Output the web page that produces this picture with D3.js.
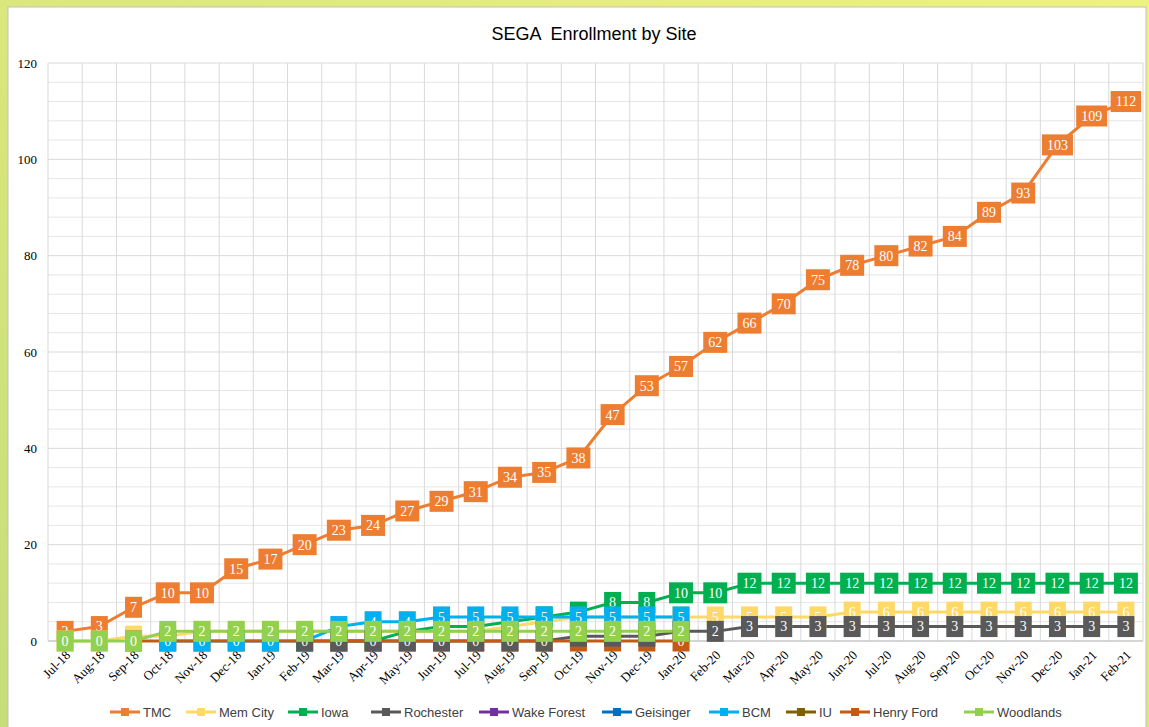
<!DOCTYPE html>
<html>
<head>
<meta charset="utf-8">
<script src="https://cdn.jsdelivr.net/npm/d3@7"></script>
<style>
	body { margin: 0; background: #e3ec7e; }
	svg { display: block; }
</style>
</head>
<body>
<div id="wrapper"></div>
<script>
// categories
const months = ["Jul-18","Aug-18","Sep-18","Oct-18","Nov-18","Dec-18","Jan-19","Feb-19","Mar-19","Apr-19","May-19","Jun-19",
	"Jul-19","Aug-19","Sep-19","Oct-19","Nov-19","Dec-19","Jan-20","Feb-20","Mar-20","Apr-20","May-20","Jun-20",
	"Jul-20","Aug-20","Sep-20","Oct-20","Nov-20","Dec-20","Jan-21","Feb-21"];

const siteNames = ["TMC","Mem City","Iowa","Rochester","Wake Forest","Geisinger","BCM","IU","Henry Ford","Woodlands"];

// series values (null = no entry)
const _ = null;
const tmc       = [2,3,7,10,10,15,17,20,23,24,27,29,31,34,35,38,47,53,57,62,66,70,75,78,80,82,84,89,93,103,109,112];
const memCity   = [0,0,1,1,2,2,2,2,2,2,2,2,2,3,4,5,5,5,5,5,5,5,5,6,6,6,6,6,6,6,6,6];
const iowa      = [_,_,_,_,_,_,_,_,0,0,2,3,3,4,5,6,8,8,10,10,12,12,12,12,12,12,12,12,12,12,12,12];
const rochester = [_,_,_,_,_,_,_,0,0,0,0,0,0,0,0,1,1,1,2,2,3,3,3,3,3,3,3,3,3,3,3,3];
const wakeForest = [];
const geisinger  = [];
const bcm       = [_,_,_,0,0,0,0,0,3,4,4,5,5,5,5,5,5,5,5];
const iu         = [];
const henryFord = [_,_,0,0,0,0,0,0,0,0,0,0,0,0,0,0,0,0,0];
const woodlands = [0,0,0,2,2,2,2,2,2,2,2,2,2,2,2,2,2,2,2];

const yTicks = [0,20,40,60,80,100,120];

const seriesValues = [tmc, memCity, iowa, rochester, wakeForest, geisinger, bcm, iu, henryFord, woodlands];
const colors = ["#ED7D31","#FFD966","#00B050","#595959","#7030A0","#0070C0","#00B0F0","#7F6000","#C55A11","#92D050"];

const series = siteNames.map((name, i) => ({
	name: name,
	color: colors[i],
	values: months.map((m, j) => ({ month: m, value: seriesValues[i][j] == null ? null : seriesValues[i][j] }))
}));

// marker/label stacking order seen in the picture
const drawOrder = ["TMC","Mem City","Iowa","Wake Forest","Geisinger","Henry Ford","IU","BCM","Rochester","Woodlands"];

let dimensions = {
	width: 1149,
	height: 727,
	margin: { top: 63, right: 6, bottom: 86, left: 48 }
};
dimensions.boundedWidth = dimensions.width - dimensions.margin.left - dimensions.margin.right;
dimensions.boundedHeight = dimensions.height - dimensions.margin.top - dimensions.margin.bottom;

const svg = d3.select("#wrapper").append("svg")
	.attr("width", dimensions.width)
	.attr("height", dimensions.height);

const defs = svg.append("defs");
const grad = defs.append("linearGradient").attr("id", "bg")
	.attr("x1", "0%").attr("y1", "100%").attr("x2", "100%").attr("y2", "0%");
grad.append("stop").attr("offset", "0%").attr("stop-color", "#c6dd7a");
grad.append("stop").attr("offset", "100%").attr("stop-color", "#eef27f");

svg.append("rect").attr("width", dimensions.width).attr("height", dimensions.height).attr("fill", "url(#bg)");
svg.append("rect")
	.attr("x", 8).attr("y", 7)
	.attr("width", 1138).attr("height", 730)
	.attr("fill", "#ffffff")
	.attr("stroke", "#bfbfbf");

svg.append("text")
	.attr("x", 594).attr("y", 40)
	.attr("text-anchor", "middle")
	.style("font-family", "'Liberation Sans', Arial, sans-serif")
	.style("font-size", "18px")
	.attr("fill", "#000000")
	.attr("xml:space", "preserve")
	.text("SEGA  Enrollment by Site");

const bounds = svg.append("g")
	.attr("transform", `translate(${dimensions.margin.left}, ${dimensions.margin.top})`);

const xScale = d3.scaleBand()
	.domain(months)
	.range([0, dimensions.boundedWidth]);

const yScale = d3.scaleLinear()
	.domain([0, 120])
	.range([dimensions.boundedHeight, 0]);

// grid
bounds.append("g").selectAll("line")
	.data(d3.range(0, 121, 4))
	.join("line")
	.attr("x1", 0).attr("x2", dimensions.boundedWidth)
	.attr("y1", d => yScale(d)).attr("y2", d => yScale(d))
	.attr("stroke", d => d % 20 === 0 ? "#d9d9d9" : "#e6e6e6")
	.attr("stroke-width", 1);

bounds.append("g").selectAll("line")
	.data(months.map(m => xScale(m)).concat([dimensions.boundedWidth]))
	.join("line")
	.attr("x1", d => d).attr("x2", d => d)
	.attr("y1", 0).attr("y2", dimensions.boundedHeight)
	.attr("stroke", "#d9d9d9")
	.attr("stroke-width", 1);

bounds.append("line")
	.attr("x1", 0).attr("x2", dimensions.boundedWidth)
	.attr("y1", dimensions.boundedHeight).attr("y2", dimensions.boundedHeight)
	.attr("stroke", "#bfbfbf");

// axes
const yAxis = bounds.append("g")
	.call(d3.axisLeft(yScale).tickValues(yTicks).tickSize(0).tickPadding(11));
yAxis.select(".domain").remove();
yAxis.selectAll("text")
	.style("font-family", "'Liberation Serif', 'Times New Roman', serif")
	.style("font-size", "13px")
	.attr("fill", "#000000");

const xAxis = bounds.append("g")
	.attr("transform", `translate(0, ${dimensions.boundedHeight})`)
	.call(d3.axisBottom(xScale).tickSize(0));
xAxis.select(".domain").remove();
xAxis.selectAll("text")
	.style("font-family", "'Liberation Serif', 'Times New Roman', serif")
	.style("font-size", "13px")
	.attr("fill", "#000000")
	.attr("text-anchor", "end")
	.attr("y", 0).attr("dy", 0)
	.attr("transform", "translate(6, 15) rotate(-45)");

// lines
const lineGenerator = d3.line()
	.defined(d => d.value != null)
	.x(d => xScale(d.month) + xScale.bandwidth() / 2)
	.y(d => yScale(d.value));

bounds.append("g").selectAll("path")
	.data(series)
	.join("path")
	.attr("d", d => lineGenerator(d.values))
	.attr("fill", "none")
	.attr("stroke", d => d.color)
	.attr("stroke-width", 3)
	.attr("stroke-linejoin", "round");

// markers with filled data labels
const ordered = drawOrder.map(n => series.find(s => s.name === n));
const groups = bounds.append("g").selectAll("g")
	.data(ordered)
	.join("g");

groups.each(function(s) {
	const g = d3.select(this);
	s.values.filter(d => d.value != null).forEach(d => {
		const cx = xScale(d.month) + xScale.bandwidth() / 2;
		const cy = yScale(d.value);
		const lg = g.append("g").attr("transform", `translate(${cx}, ${cy})`);
		const box = lg.append("rect").attr("fill", s.color);
		const t = lg.append("text")
			.attr("text-anchor", "middle")
			.attr("dy", "0.35em")
			.style("font-family", "'Liberation Serif', 'Times New Roman', serif")
			.style("font-size", "14px")
			.attr("fill", "#ffffff")
			.text(d.value);
		const w = t.node().getComputedTextLength() + 10;
		box.attr("x", -w / 2).attr("y", -10.5).attr("width", w).attr("height", 21);
	});
});

// legend
const legendX = [110, 186, 288, 371, 479, 602, 709, 786, 840, 964];
const legend = svg.append("g").attr("transform", "translate(0, 712)");
const items = legend.selectAll("g")
	.data(series)
	.join("g")
	.attr("transform", (d, i) => `translate(${legendX[i]}, 0)`);
items.append("line")
	.attr("x1", 0).attr("x2", 30)
	.attr("stroke", d => d.color)
	.attr("stroke-width", 3);
items.append("rect")
	.attr("x", 11).attr("y", -4).attr("width", 8).attr("height", 8)
	.attr("fill", d => d.color);
items.append("text")
	.attr("x", 33).attr("dy", "0.35em")
	.style("font-family", "'Liberation Sans Narrow', 'Liberation Sans', Arial, sans-serif")
	.style("font-size", "13px")
	.attr("fill", "#404040")
	.text(d => d.name);
</script>
</body>
</html>
